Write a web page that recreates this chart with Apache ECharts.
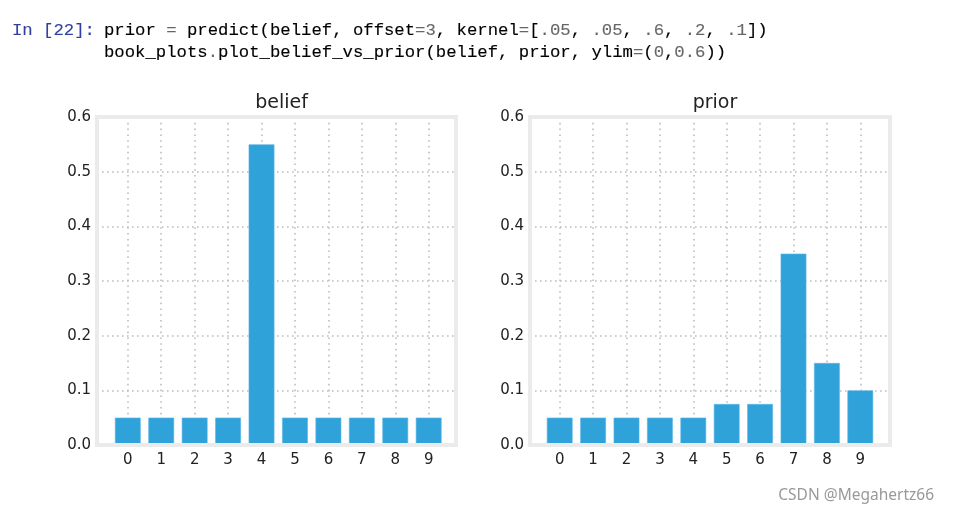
<!DOCTYPE html>
<html>
<head>
<meta charset="utf-8">
<script src="https://cdn.jsdelivr.net/npm/echarts@6/dist/echarts.min.js"></script>
<style>
html,body{margin:0;padding:0;background:#ffffff;}
#chart{width:954px;height:512px;}
</style>
</head>
<body>
<div id="chart"></div>
<script>
// ---- data ----
const categories = ['0','1','2','3','4','5','6','7','8','9'];
const beliefValues = [0.05, 0.05, 0.05, 0.05, 0.55, 0.05, 0.05, 0.05, 0.05, 0.05];
const priorValues = [0.05, 0.05, 0.05, 0.05, 0.05, 0.075, 0.075, 0.35, 0.15, 0.10];
const yTicks = [0.0, 0.1, 0.2, 0.3, 0.4, 0.5, 0.6];
const panelTitles = ['belief', 'prior'];

// ---- styles ----
const barColor = '#30a2da';
const frameColor = '#ebebeb';
const dotColor = '#bdbdbd';
const tickFont = 'DejaVu Sans';
const mono = 'Liberation Mono';

const chart = echarts.init(document.getElementById('chart'), null, {renderer: 'canvas'});

// panel layout: frame grid and inner data grid
const panels = [
  {frameLeft: 97, frameWidth: 359, dataLeft: 127.8, dataWidth: 300.9, values: beliefValues},
  {frameLeft: 530, frameWidth: 360, dataLeft: 559.7, dataWidth: 300.6, values: priorValues}
];
const plotTop = 117, plotHeight = 328;

const grids = [], xAxes = [], yAxes = [], series = [], titles = [];

function codeStyle(c) {
  return {color: c, fontFamily: mono, fontSize: 17.3, fontWeight: 'normal',
    textBorderColor: c, textBorderWidth: 0.12};
}
const richCode = {
  k: codeStyle('#000000'),
  g: codeStyle('#666666'),
  n: codeStyle('#303F9F')
};
titles.push({
  text: '{n|In [22]:}', left: 7, top: 17,
  textStyle: {rich: richCode, fontWeight: 'normal'}
});
titles.push({
  text: '{k|prior }{g|=}{k| predict(belief, offset}{g|=3}{k|, kernel}{g|=}{k|[}{g|.05}{k|, }{g|.05}{k|, }{g|.6}{k|, }{g|.2}{k|, }{g|.1}{k|])}',
  left: 99, top: 17,
  textStyle: {rich: richCode, fontWeight: 'normal'}
});
titles.push({
  text: '{k|book_plots}{g|.}{k|plot_belief_vs_prior(belief, prior, ylim}{g|=}{k|(}{g|0}{k|,}{g|0.6}{k|))}',
  left: 99, top: 39,
  textStyle: {rich: richCode, fontWeight: 'normal'}
});
titles.push({
  text: 'CSDN @Megahertz66', right: 15, top: 483,
  textStyle: {color: '#999999', fontSize: 15.5, fontWeight: 'normal', fontFamily: 'Noto Sans'}
});

panels.forEach((p, i) => {
  const gFrame = grids.length;
  grids.push({left: p.frameLeft, top: plotTop, width: p.frameWidth, height: plotHeight,
    show: true, borderColor: frameColor, borderWidth: 4, backgroundColor: 'transparent', z: 5});
  const gData = grids.length;
  grids.push({left: p.dataLeft, top: plotTop, width: p.dataWidth, height: plotHeight, show: false});

  // frame axes
  xAxes.push({gridIndex: gFrame, type: 'value', min: 0, max: 1, show: false});
  yAxes.push({gridIndex: gFrame, type: 'value', min: yTicks[0], max: yTicks[yTicks.length-1], interval: 0.1,
    axisLine: {show: false}, axisTick: {show: false},
    axisLabel: {color: '#222', fontSize: 15, fontFamily: tickFont, margin: 6,
      formatter: v => v.toFixed(1)},
    splitLine: {show: true, showMinLine: false, showMaxLine: false,
      lineStyle: {color: dotColor, width: 1.6, type: [1.6, 3.4]}}
  });
  // data axes
  xAxes.push({gridIndex: gData, type: 'category', data: categories, boundaryGap: false,
    axisLine: {show: false}, axisTick: {show: false},
    axisLabel: {color: '#222', fontSize: 15, fontFamily: tickFont, margin: 8, interval: 0},
    splitLine: {show: true, interval: 0, lineStyle: {color: dotColor, width: 1.6, type: [1.6, 4.2]}}
  });
  yAxes.push({gridIndex: gData, type: 'value', min: yTicks[0], max: yTicks[yTicks.length-1], show: false,
    splitLine: {show: false}});

  series.push({
    type: 'bar', xAxisIndex: xAxes.length - 1, yAxisIndex: yAxes.length - 1,
    data: p.values, barWidth: '77%', clip: false,
    itemStyle: {color: barColor, borderColor: '#5cb6e4', borderWidth: 0.6},
    z: 3, silent: true
  });

  titles.push({
    text: panelTitles[i],
    left: p.frameLeft + p.frameWidth / 2, textAlign: 'center', top: 89,
    textStyle: {color: '#222', fontSize: 19, fontWeight: 'normal', fontFamily: tickFont}
  });
});

chart.setOption({
  animation: false,
  backgroundColor: '#ffffff',
  title: titles,
  grid: grids,
  xAxis: xAxes,
  yAxis: yAxes,
  series: series
});
</script>
</body>
</html>
